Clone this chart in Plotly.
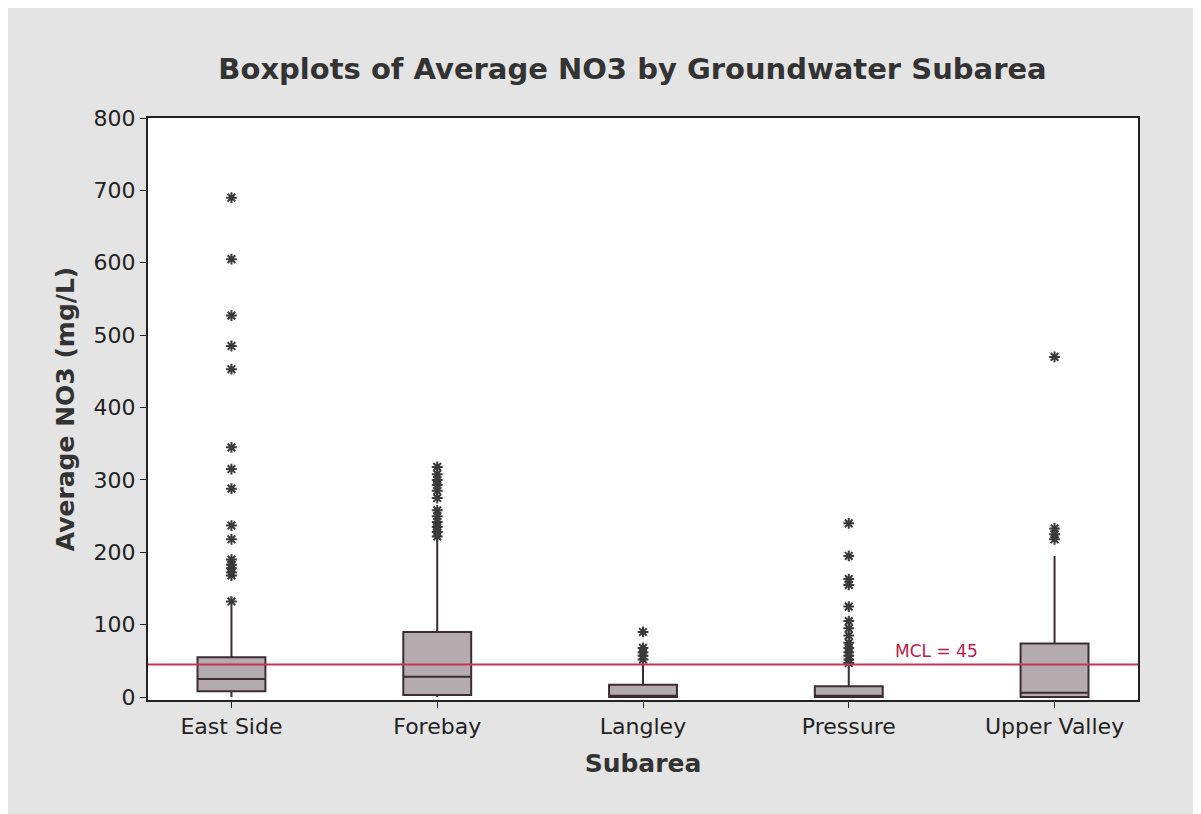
import plotly.graph_objects as go

# summary stats (mg/L)
subareas = ["East Side", "Forebay", "Langley", "Pressure", "Upper Valley"]
q1 = [8, 3, 0, 0, 0]
median = [25, 28, 2, 2, 6]
q3 = [55, 90, 17, 15, 74]
lower_fence = [0, 0, 0, 0, 0]
upper_fence = [125, 218, 45, 42, 195]

east_side_out = [690, 605, 527, 485, 453, 345, 315, 288, 237, 218, 190, 183, 178, 172, 168, 132]
forebay_out = [318, 308, 300, 293, 285, 275, 258, 250, 242, 235, 228, 222]
langley_out = [90, 68, 62, 57, 52]
pressure_out = [240, 195, 163, 155, 125, 105, 95, 85, 75, 68, 62, 57, 52, 47]
upper_valley_out = [470, 233, 225, 218]

mcl = 45

outliers = [east_side_out, forebay_out, langley_out, pressure_out, upper_valley_out]

fig = go.Figure()

fig.add_trace(go.Box(
    x=subareas,
    q1=q1, median=median, q3=q3,
    lowerfence=lower_fence, upperfence=upper_fence,
    boxpoints=False,
    fillcolor="#b3abae",
    line=dict(color="#3e2c35", width=2),
    whiskerwidth=0,
    width=0.33,
    showlegend=False,
))

ox, oy = [], []
for name, vals in zip(subareas, outliers):
    ox += [name] * len(vals)
    oy += vals
fig.add_trace(go.Scatter(
    x=ox, y=oy, mode="markers",
    marker=dict(symbol="asterisk-open", size=9, color="#3a3a3a",
                line=dict(color="#3a3a3a", width=2)),
    showlegend=False,
))

# MCL reference line
fig.add_shape(type="line", xref="paper", yref="y", x0=0, x1=1, y0=mcl, y1=mcl,
              line=dict(color="#c8325a", width=2))
fig.add_annotation(x=0.796, xref="paper", xanchor="center", y=mcl, yref="y",
                   yanchor="bottom", yshift=2,
                   text=f"MCL = {mcl}", showarrow=False,
                   font=dict(color="#b8204a", size=17, family="DejaVu Sans"))

fig.update_layout(
    width=1201, height=814,
    margin=dict(l=140, r=71, t=110, b=122),
    paper_bgcolor="#e4e4e4",
    plot_bgcolor="white",
    font=dict(family="DejaVu Sans", color="#222"),
    title=dict(text="<b>Boxplots of Average NO3 by Groundwater Subarea</b>",
               x=0.52, xanchor="center", y=0.925, yanchor="middle",
               font=dict(size=29, color="#333")),
    xaxis=dict(
        title=dict(text="<b>Subarea</b>", font=dict(size=25, color="#333"), standoff=16),
        tickfont=dict(size=22, color="#222"),
        showline=True, linecolor="#222", linewidth=2, mirror=True,
        ticks="outside", ticklen=6, tickcolor="#222",
        showgrid=False,
    ),
    yaxis=dict(
        title=dict(text="<b>Average NO3 (mg/L)</b>", font=dict(size=25, color="#333"), standoff=12),
        range=[-4, 800], dtick=100,
        tickfont=dict(size=22, color="#222"),
        showline=True, linecolor="#222", linewidth=2, mirror=True,
        ticks="outside", ticklen=6, tickcolor="#222",
        showgrid=False, zeroline=False,
    ),
)

fig.write_html("out.html")
